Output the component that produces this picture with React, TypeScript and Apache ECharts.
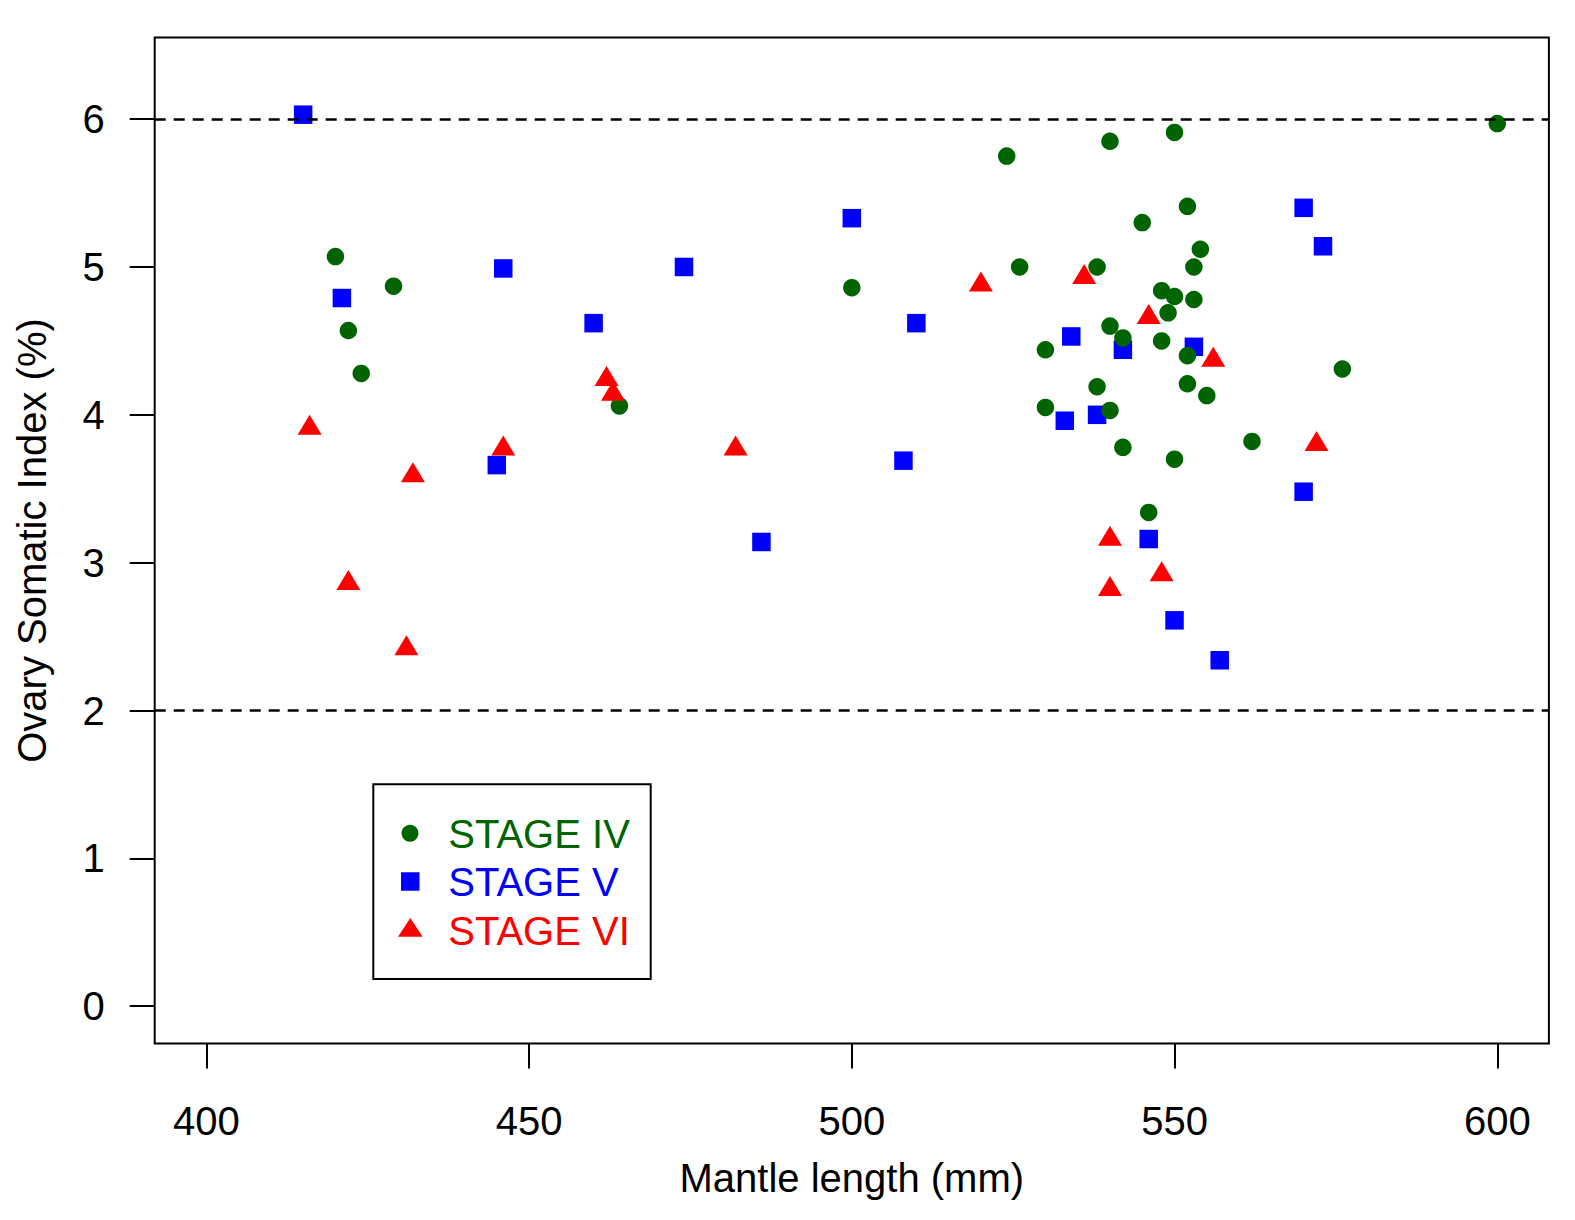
import { useEffect, useRef } from 'react'
import * as echarts from 'echarts'

// mantle length (mm), ovary somatic index (%)
const stage4 = [
  [420, 5.07], [422, 4.57], [424, 4.28], [429, 4.87], [464, 4.06], [500, 4.86],
  [524, 5.75], [526, 5.0], [530, 4.44], [530, 4.05], [538, 5.0], [538, 4.19],
  [540, 5.85], [540, 4.6], [540, 4.03], [542, 4.52], [542, 3.78], [545, 5.3],
  [546, 3.34], [548, 4.84], [548, 4.5], [549, 4.69], [550, 5.91], [550, 4.8],
  [550, 3.7], [552, 5.41], [552, 4.4], [552, 4.21], [553, 5.0], [553, 4.78],
  [554, 5.12], [555, 4.13], [562, 3.82], [576, 4.31], [600, 5.97]
]

const stage5 = [
  [415, 6.03], [421, 4.79], [445, 3.66], [446, 4.99], [460, 4.62], [474, 5.0],
  [486, 3.14], [500, 5.33], [508, 3.69], [510, 4.62], [533, 3.96], [534, 4.53],
  [538, 4.0], [542, 4.44], [546, 3.16], [550, 2.61], [553, 4.46], [557, 2.34],
  [570, 5.4], [570, 3.48], [573, 5.14]
]

const stage6 = [
  [416, 3.91], [422, 2.86], [431, 2.42], [432, 3.59], [446, 3.77], [462, 4.24],
  [463, 4.14], [482, 3.77], [520, 4.88], [536, 4.93], [540, 3.16], [540, 2.82],
  [546, 4.66], [548, 2.92], [556, 4.37], [572, 3.8]
]

const xTicks = [400, 450, 500, 550, 600]
const yTicks = [0, 1, 2, 3, 4, 5, 6]
const refLines = [6, 2]

const GREEN = '#006400'
const BLUE = '#0000FF'
const RED = '#FF0000'
const FONT = "'Liberation Sans', Arial, sans-serif"

export default function App() {
  const ref = useRef<HTMLDivElement | null>(null)

  useEffect(() => {
    if (!ref.current) return
    document.body.style.margin = '0'
    const chart = echarts.init(ref.current, null, { renderer: 'svg' })

    const tickStyle = { color: '#000', width: 2 }
    const labelStyle = { fontSize: 40, color: '#000', fontFamily: FONT }

    // legend box (R style)
    const lx = 373.3
    const ly = 784.3
    const rows = [833.3, 881.5, 930.5]
    const legendText = (text: string, y: number, color: string) => ({
      type: 'text',
      x: 448.3,
      y,
      style: { text, fill: color, fontSize: 40, fontFamily: FONT, verticalAlign: 'middle', align: 'left' },
      z: 101
    })

    chart.setOption({
      animation: false,
      backgroundColor: '#fff',
      grid: {
        left: 154.7,
        right: 26.1,
        top: 37.5,
        bottom: 176.5,
        show: true,
        borderColor: '#000',
        borderWidth: 2
      },
      xAxis: {
        type: 'value',
        min: 392,
        max: 608,
        splitLine: { show: false },
        axisLine: { show: false, onZero: false },
        axisTick: { show: true, length: 25, lineStyle: tickStyle, customValues: xTicks },
        axisLabel: { ...labelStyle, customValues: xTicks, margin: 77, verticalAlign: 'middle' },
        name: 'Mantle length (mm)',
        nameLocation: 'middle',
        nameGap: 134,
        nameTextStyle: { ...labelStyle, verticalAlign: 'middle', align: 'center' }
      },
      yAxis: {
        type: 'value',
        min: -0.252,
        max: 6.552,
        splitLine: { show: false },
        axisLine: { show: false, onZero: false },
        axisTick: { show: true, length: 25, lineStyle: tickStyle, customValues: yTicks },
        axisLabel: { ...labelStyle, customValues: yTicks, margin: 50 },
        name: 'Ovary Somatic Index (%)',
        nameLocation: 'middle',
        nameRotate: 90,
        nameGap: 123,
        nameTextStyle: { ...labelStyle, verticalAlign: 'middle', align: 'center' }
      },
      series: [
        {
          name: 'STAGE V',
          type: 'scatter',
          symbol: 'rect',
          symbolSize: 18.5,
          itemStyle: { color: BLUE, opacity: 1 },
          data: stage5
        },
        {
          name: 'STAGE IV',
          type: 'scatter',
          symbol: 'circle',
          symbolSize: 17.5,
          itemStyle: { color: GREEN, opacity: 1 },
          data: stage4
        },
        {
          name: 'STAGE VI',
          type: 'scatter',
          symbol: 'triangle',
          symbolSize: [24, 20],
          symbolOffset: [0, -3.3],
          itemStyle: { color: RED, opacity: 1 },
          data: stage6
        },
        {
          type: 'scatter',
          data: [],
          markLine: {
            silent: true,
            symbol: ['none', 'none'],
            label: { show: false },
            lineStyle: { color: '#000', width: 2.5, type: [11, 8] },
            data: refLines.map((v) => ({ yAxis: v }))
          }
        }
      ],
      graphic: [
        {
          type: 'rect',
          shape: { x: lx, y: ly, width: 277.4, height: 194.7 },
          style: { fill: '#fff', stroke: '#000', lineWidth: 2 },
          z: 100
        },
        { type: 'circle', shape: { cx: 410, cy: rows[0], r: 8.5 }, style: { fill: GREEN }, z: 101 },
        { type: 'rect', shape: { x: 401, y: rows[1] - 9.25, width: 18.5, height: 18.5 }, style: { fill: BLUE }, z: 101 },
        {
          type: 'polygon',
          shape: { points: [[410.3, rows[2] - 12.5], [422.6, rows[2] + 6.2], [398, rows[2] + 6.2]] },
          style: { fill: RED },
          z: 101
        },
        legendText('STAGE IV', rows[0] + 0.7, GREEN),
        legendText('STAGE V', rows[1] + 0.7, BLUE),
        legendText('STAGE VI', rows[2] + 0.5, RED)
      ]
    })

    return () => chart.dispose()
  }, [])

  return <div ref={ref} style={{ width: 1575, height: 1220 }} />
}
